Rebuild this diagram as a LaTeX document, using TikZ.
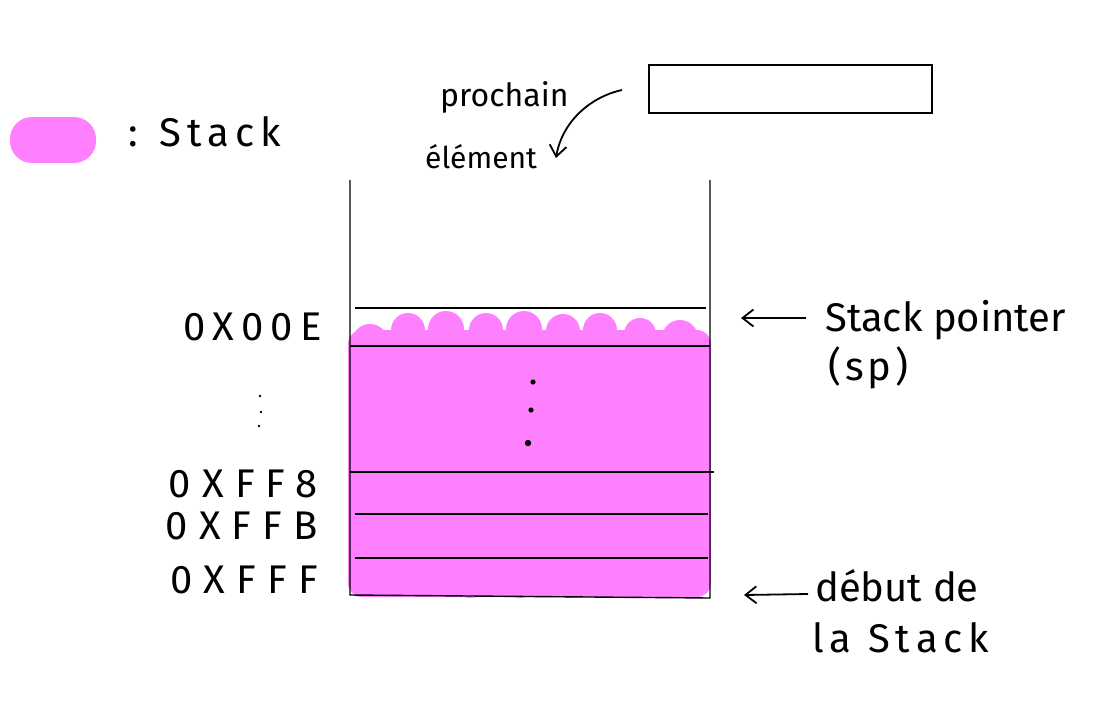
\documentclass[tikz,border=0pt]{standalone}
\usepackage{fontspec}
\setmainfont{Fira Sans}
\usetikzlibrary{arrows.meta}
\definecolor{stackpink}{RGB}{255,128,255}
\tikzset{
  lbl/.style={font=\fontsize{40}{44}\selectfont, inner sep=0pt, anchor=west},
  addr/.style={font=\fontsize{40}{44}\selectfont\addfontfeature{LetterSpace=28}, inner sep=0pt, anchor=east},
  ink/.style={line width=1.4pt, black},
  ptr/.style={line width=1.8pt, -{Straight Barb[length=11pt,width=17pt,line width=1.8pt]}},
  slot/.style={line width=1.2pt}
}
\begin{document}
\begin{tikzpicture}[x=1pt,y=-1pt]
\useasboundingbox (0,0) rectangle (1105,707);
% legend
\fill[stackpink, rounded corners=22pt] (10,117) rectangle (96,163);
\node[lbl, font=\fontsize{40}{44}\selectfont\addfontfeature{LetterSpace=15}] (legend) at (128,132) {: Stack};
% top box
\node[draw, line width=1.4pt, minimum width=283pt, minimum height=48pt, inner sep=0pt] (nextbox) at (790.5,89) {};
% prochain element
\node[lbl, font=\fontsize{32}{36}\selectfont] (prochain) at (440,97) {prochain};
\node[lbl, font=\fontsize{30}{34}\selectfont] (element) at (425,157) {élément};
\coordinate (curvestart) at (622,90);
\coordinate (curveend) at (556,158);
\draw[ptr] (curvestart) .. controls (590,97) and (562,122) .. (curveend);
% pink filled stack content
\fill[stackpink, rounded corners=14pt] (348,330) rectangle (711,597);
\foreach \cx/\cy/\r in {370/342/18, 408/330/17, 446/329/18, 486/330/17, 524/329/18, 563/331/17, 600/330/17, 640/334/16, 680/338/18,
                         380/578/16, 420/582/14, 470/582/16, 520/583/15, 570/582/16, 620/581/15, 668/578/16, 696/570/14}{
  \fill[stackpink] (\cx,\cy) circle (\r pt);
}
% container
\coordinate (tl) at (350,180);
\coordinate (bl) at (350,595);
\coordinate (br) at (710,598);
\coordinate (tr) at (710,180);
\draw[ink] (tl) -- (bl) -- (br) -- (tr);
% slot lines
\draw[slot] (355,308) -- (706,308);
\draw[slot] (350,346) -- (710,346);
\draw[slot] (350,472) -- (714,472);
\draw[slot] (355,514) -- (708,514);
\draw[slot] (355,558) -- (708,558);
% dots inside
\fill (533,382) circle (2.6pt);
\fill (531,410) circle (2.6pt);
\fill (528,443) circle (3.2pt);
% addresses
\node[addr, font=\fontsize{40}{44}\selectfont\addfontfeature{LetterSpace=18}] (a00e) at (322,327) {0X00E};
\fill (260,396) circle (1.4pt);
\fill (261,412) circle (1.4pt);
\fill (259,426) circle (1.4pt);
\node[addr] (aff8) at (318,484) {0XFF8};
\node[addr] (affb) at (318,526) {0XFFB};
\node[addr] (afff) at (318,580) {0XFFF};
% stack pointer
\node[lbl] (sp) at (825,320) {Stack pointer};
\node[lbl, font=\fontsize{40}{44}\selectfont\addfontfeature{LetterSpace=10}] (sp2) at (828,368) {(sp)};
\coordinate (sptip) at (741,318);
\coordinate (spfrom) at (806,318);
\draw[ptr] (spfrom) -- (sptip);
% debut de la stack
\node[lbl] (debut) at (815,586) {début de};
\node[lbl, font=\fontsize{40}{44}\selectfont\addfontfeature{LetterSpace=15}] (la) at (812,638) {la Stack};
\coordinate (debtip) at (744,595);
\coordinate (debfrom) at (808,594);
\draw[ptr] (debfrom) -- (debtip);
\end{tikzpicture}
\end{document}
